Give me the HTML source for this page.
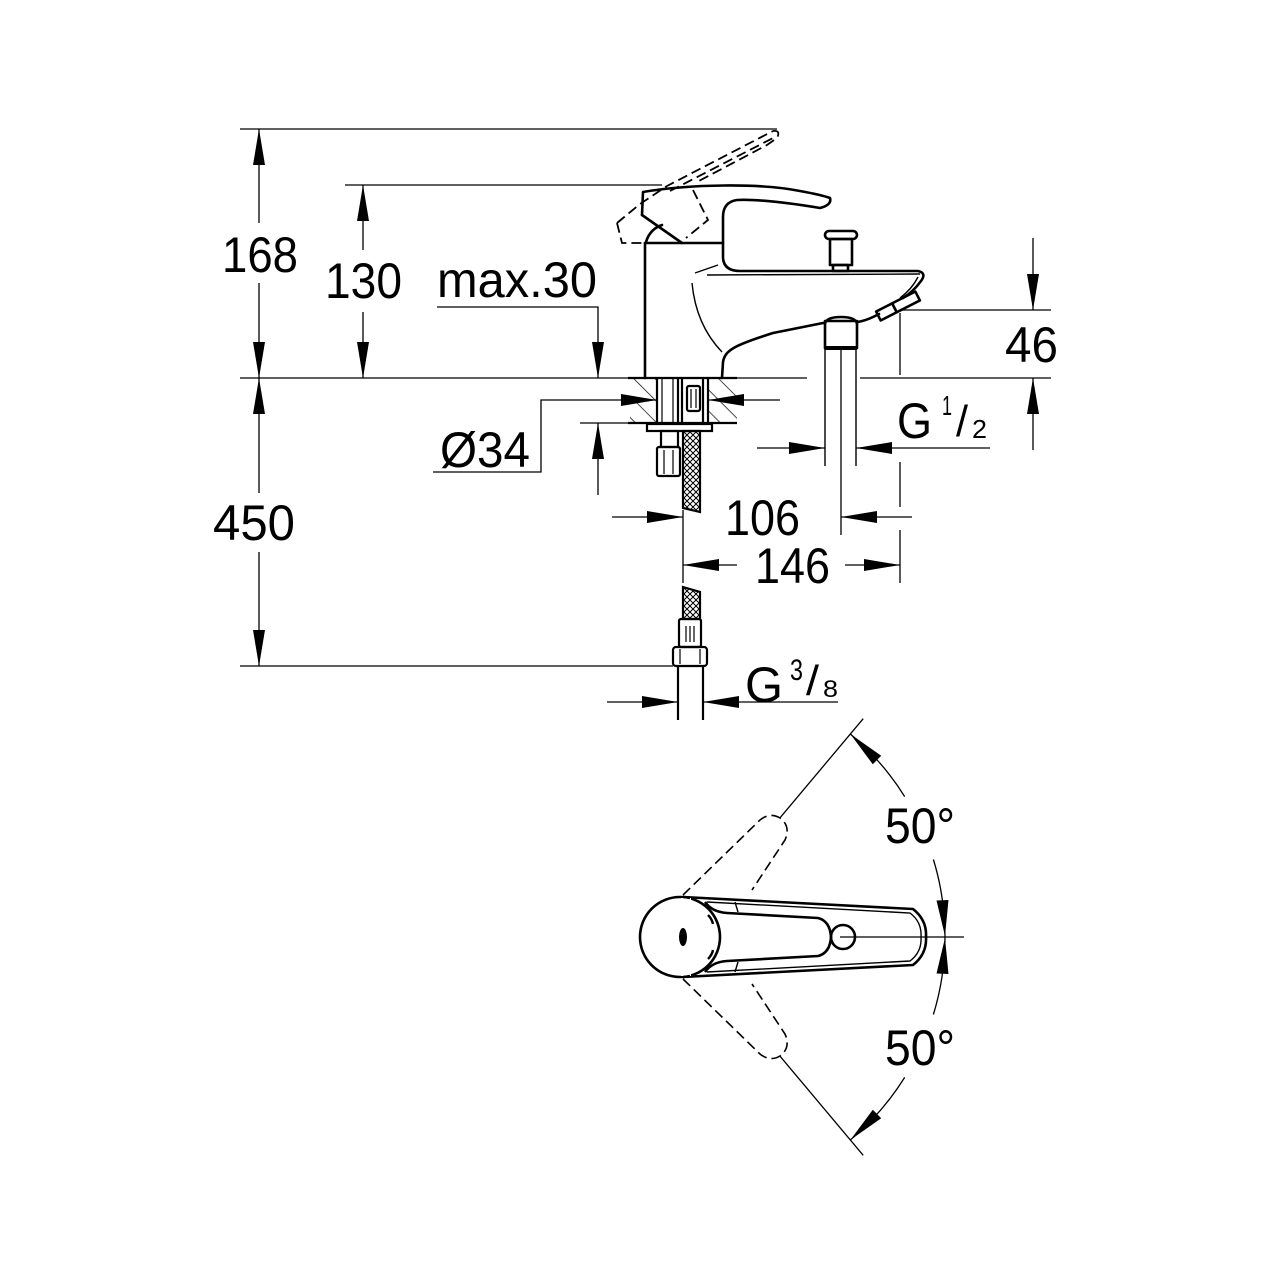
<!DOCTYPE html>
<html><head><meta charset="utf-8"><style>
html,body{margin:0;padding:0;background:#fff;}
svg{display:block;}
text{font-family:"Liberation Sans",Arial,sans-serif;fill:#000;}
</style></head><body>
<svg width="1280" height="1280" viewBox="0 0 1280 1280" xmlns="http://www.w3.org/2000/svg">
<defs>
<pattern id="xh" width="6" height="6" patternUnits="userSpaceOnUse">
<path d="M0,0 L6,6 M6,0 L0,6" stroke="#000" stroke-width="1"/>
</pattern>
<pattern id="hh" width="15" height="15" patternUnits="userSpaceOnUse" patternTransform="rotate(-45)">
<line x1="0" y1="0" x2="0" y2="15" stroke="#000" stroke-width="1.4"/>
</pattern>
</defs>
<rect width="1280" height="1280" fill="#fff"/>

<!-- dimension lines -->
<g stroke="#000" stroke-width="1.3" fill="none">
<line x1="240" y1="129" x2="777" y2="129"/>
<line x1="259" y1="129" x2="259" y2="223"/>
<line x1="259" y1="283" x2="259" y2="378"/>
<line x1="259" y1="378" x2="259" y2="493"/>
<line x1="259" y1="552" x2="259" y2="666"/>
<line x1="240" y1="666" x2="673" y2="666"/>
<line x1="345" y1="185" x2="662" y2="185"/>
<line x1="363" y1="185" x2="363" y2="250"/>
<line x1="363" y1="312" x2="363" y2="378"/>
<line x1="240" y1="378" x2="807" y2="378"/>
<line x1="860" y1="378" x2="1051" y2="378"/>
<polyline points="437,307 598,307 598,378"/>
<line x1="580" y1="423" x2="630" y2="423"/>
<line x1="598" y1="423" x2="598" y2="495"/>
<polyline points="433,472 541,472 541,400 657,400"/>
<line x1="708" y1="400" x2="780" y2="400"/>
<line x1="612" y1="517" x2="683" y2="517"/>
<line x1="683" y1="510" x2="683" y2="583"/>
<line x1="757" y1="448" x2="825" y2="448"/>
<line x1="856" y1="448" x2="990" y2="448"/>
<line x1="841" y1="348" x2="841" y2="535"/>
<line x1="841" y1="517" x2="912" y2="517"/>
<line x1="683" y1="565" x2="737" y2="565"/>
<line x1="845" y1="565" x2="900" y2="565"/>
<line x1="900" y1="313" x2="900" y2="375"/>
<line x1="900" y1="462" x2="900" y2="507"/>
<line x1="900" y1="530" x2="900" y2="583"/>
<line x1="1033" y1="238" x2="1033" y2="310"/>
<line x1="1033" y1="378" x2="1033" y2="450"/>
<line x1="900" y1="310" x2="1051" y2="310"/>
<line x1="607" y1="702" x2="678" y2="702"/>
<line x1="703" y1="702" x2="838" y2="702"/>
</g>

<!-- arrowheads -->
<g fill="#000" stroke="none">
<polygon points="259,129 253,165 265,165"/>
<polygon points="259,378 253,342 265,342"/>
<polygon points="259,378 253,414 265,414"/>
<polygon points="259,666 253,630 265,630"/>
<polygon points="363,185 357,221 369,221"/>
<polygon points="363,378 357,342 369,342"/>
<polygon points="598,378 592,342 604,342"/>
<polygon points="598,423 592,459 604,459"/>
<polygon points="657,400 621,394 621,406"/>
<polygon points="708,400 744,394 744,406"/>
<polygon points="683,517 647,511 647,523"/>
<polygon points="825,448 789,442 789,454"/>
<polygon points="856,448 892,442 892,454"/>
<polygon points="841,517 877,511 877,523"/>
<polygon points="683,565 719,559 719,571"/>
<polygon points="900,565 864,559 864,571"/>
<polygon points="1033,310 1027,274 1039,274"/>
<polygon points="1033,378 1027,414 1039,414"/>
<polygon points="678,702 642,696 642,708"/>
<polygon points="703,702 739,696 739,708"/>
<!-- angle arrows -->
<polygon points="850.3,734 881.2,755.7 872.8,764.3"/>
<polygon points="945,936 948.5,900 936.5,900.5"/>
<polygon points="945,938 948.5,974 936.5,973.5"/>
<polygon points="850.3,1140 881.2,1118.3 872.8,1109.7"/>
</g>

<!-- texts -->
<g font-size="50">
<text x="222" y="272" textLength="76" lengthAdjust="spacingAndGlyphs">168</text>
<text x="325" y="298" textLength="77" lengthAdjust="spacingAndGlyphs">130</text>
<text x="437" y="297" textLength="160" lengthAdjust="spacingAndGlyphs">max.30</text>
<text x="440" y="467" textLength="90" lengthAdjust="spacingAndGlyphs">Ø34</text>
<text x="213" y="540" textLength="82" lengthAdjust="spacingAndGlyphs">450</text>
<text x="725" y="535" textLength="75" lengthAdjust="spacingAndGlyphs">106</text>
<text x="755" y="583" textLength="75" lengthAdjust="spacingAndGlyphs">146</text>
<text x="1005" y="362" textLength="53" lengthAdjust="spacingAndGlyphs">46</text>
<text x="897" y="438" textLength="35" lengthAdjust="spacingAndGlyphs">G</text>
<text x="745" y="702" textLength="38" lengthAdjust="spacingAndGlyphs">G</text>
<text x="885" y="843" textLength="70" lengthAdjust="spacingAndGlyphs">50°</text>
<text x="885" y="1065" textLength="70" lengthAdjust="spacingAndGlyphs">50°</text>
</g>
<text x="942" y="415" font-size="28" textLength="10" lengthAdjust="spacingAndGlyphs">1</text>
<text x="956" y="436" font-size="44" textLength="12" lengthAdjust="spacingAndGlyphs">/</text>
<text x="972" y="438" font-size="26" textLength="15" lengthAdjust="spacingAndGlyphs">2</text>
<text x="790" y="680" font-size="30" textLength="13" lengthAdjust="spacingAndGlyphs">3</text>
<text x="806" y="695" font-size="42" textLength="13" lengthAdjust="spacingAndGlyphs">/</text>
<text x="823" y="697" font-size="24" textLength="15" lengthAdjust="spacingAndGlyphs">8</text>

<!-- faucet side view -->
<g stroke="#000" stroke-width="2.6" fill="none" stroke-linejoin="round" stroke-linecap="round">
<path d="M642,215 L643,192 C690,184 760,183 800,191 Q822,195 830,198 Q832,205 820,208 C790,203 760,199 737,200 Q723,202 723,217 L723,258 Q724,271 740,271 L918,271 Q927,273 921,281 Q913,292 903,298"/>
<path d="M642,215 L682,243"/>
<path d="M645,243 L723,243"/>
<path d="M645,243 L645,378"/>
<path d="M646,242 Q650,229 662,225"/>
<path d="M722,378 L723,362 C725,350 735,345 773,333 L823,323"/>
<path d="M825,324 Q826,317 841,317 Q856,317 857,324"/>
<rect x="825" y="321" width="32" height="27"/>
<path d="M857,322 Q866,321 879,314"/>
<rect x="825" y="231" width="32" height="8" rx="4"/>
<rect x="830" y="239" width="22" height="26"/>
<rect x="833" y="265" width="15" height="6"/>
<g transform="translate(898,306) rotate(-27)">
<rect x="-22" y="-5" width="44" height="10"/>
<line x1="-4" y1="-5" x2="-4" y2="5"/>
</g>
</g>
<line x1="825" y1="348" x2="857" y2="348" stroke="#000" stroke-width="4"/>
<g stroke="#000" stroke-width="1.4" fill="none">
<line x1="707" y1="275" x2="920" y2="274"/>
<line x1="695" y1="273" x2="718" y2="265"/>
<path d="M692,283 Q696,325 722,352"/>
<path d="M918,277 Q912,289 900,298"/>
<line x1="825" y1="348" x2="825" y2="466"/>
<line x1="856" y1="348" x2="856" y2="466"/>
</g>
<!-- raised handle (dashed) -->
<g stroke="#000" stroke-width="1.8" fill="none" stroke-dasharray="10,5">
<path d="M617,223 L640,204 L667,186 L773,131"/>
<path d="M670,191 L775,137"/>
<path d="M773,131 Q781,130 777,138 L767,145 L697,182"/>
<path d="M617,223 L622,243 L643,243"/>
<path d="M693,190 L708,220 L686,238"/>
</g>

<!-- deck plate -->
<rect x="630" y="378" width="27" height="45" fill="url(#hh)"/>
<rect x="708" y="378" width="29" height="45" fill="url(#hh)"/>
<g stroke="#000" stroke-width="2.2" fill="none">
<line x1="628" y1="378" x2="737" y2="378"/>
<line x1="628" y1="423" x2="737" y2="423"/>
<line x1="657" y1="378" x2="657" y2="423"/>
<line x1="708" y1="378" x2="708" y2="423"/>
<line x1="678" y1="378" x2="678" y2="423"/>
<line x1="682" y1="378" x2="682" y2="423"/>
<line x1="703" y1="378" x2="703" y2="423"/>
<rect x="687" y="386" width="13" height="25" rx="2"/>
<rect x="647" y="424" width="65" height="7"/>
<rect x="661" y="431" width="17" height="16"/>
<rect x="657" y="447" width="23" height="29" rx="2"/>
</g>
<g stroke="#000" stroke-width="1.2" fill="none">
<line x1="662" y1="378" x2="662" y2="423"/>
<line x1="673" y1="378" x2="673" y2="423"/>
<line x1="691" y1="389" x2="691" y2="408"/>
<line x1="696" y1="389" x2="696" y2="408"/>
<line x1="664" y1="450" x2="664" y2="474"/>
<line x1="673" y1="450" x2="673" y2="474"/>
</g>
<polygon points="683,431 700,431 700,512 683,508" fill="url(#xh)" stroke="#000" stroke-width="2.2"/>

<!-- lower hose -->
<polygon points="683,587 700,592 700,619 683,619" fill="url(#xh)" stroke="#000" stroke-width="2.2"/>
<g stroke="#000" stroke-width="2.2" fill="none">
<rect x="679" y="619" width="22" height="28" rx="2"/>
<rect x="673" y="647" width="34" height="19" rx="3"/>
<line x1="678" y1="666" x2="678" y2="720"/>
<line x1="703" y1="666" x2="703" y2="720"/>
</g>
<g stroke="#000" stroke-width="1.2" fill="none">
<line x1="686" y1="626" x2="686" y2="642"/>
<line x1="690" y1="626" x2="690" y2="642"/>
<line x1="694" y1="626" x2="694" y2="642"/>
<line x1="680" y1="649" x2="680" y2="664"/>
<line x1="700" y1="649" x2="700" y2="664"/>
</g>

<!-- top view -->
<g stroke="#000" stroke-width="1.3" fill="none">
<line x1="779.6" y1="818.3" x2="863.2" y2="718.7"/>
<line x1="779.6" y1="1055.7" x2="863.2" y2="1155.3"/>
<line x1="840" y1="937" x2="964" y2="937"/>
<path d="M850.3,734 A265,265 0 0 1 904.7,796.6"/>
<path d="M933.4,859.5 A265,265 0 0 1 945,937 A265,265 0 0 1 933.4,1014.5"/>
<path d="M904.7,1077.4 A265,265 0 0 1 850.3,1140"/>
</g>
<g stroke="#000" stroke-width="1.6" fill="none" stroke-dasharray="10,5">
<path d="M683,895 L760,820 Q770,812 780,818 Q791,826 785,840 L752,890"/>
<path d="M683,979 L760,1054 Q770,1062 780,1056 Q791,1048 785,1034 L752,984"/>
</g>
<g stroke="#000" stroke-width="2.6" fill="none" stroke-linejoin="round">
<circle cx="680" cy="937" r="40" fill="#fff"/>
<path d="M683,897 L913,909 Q927,920 926,937 Q927,954 913,965 L683,977"/>
<path d="M705,902 Q712,912 727,913 L818,918 Q830,921 831,937 Q830,953 818,956 L727,961 Q712,962 705,972"/>
<circle cx="843" cy="937" r="12"/>
</g>
<rect x="681" y="898" width="10" height="78" fill="#fff"/>
<g stroke="#000" stroke-width="1.4" fill="none">
<path d="M707,902 L910,913 Q922,922 921,937 Q922,952 910,961 L707,972"/>
<line x1="735" y1="902" x2="738" y2="912"/>
<line x1="735" y1="972" x2="738" y2="962"/>
<path d="M708,915 Q712,919 713,924" stroke-width="2.4"/>
<path d="M708,959 Q712,955 713,950" stroke-width="2.4"/>
</g>
<g stroke="#000" stroke-width="2.6" fill="none">
<path d="M683,897 A40,40 0 0 1 690,898"/>
<path d="M683,977 A40,40 0 0 0 690,976"/>
</g>
<ellipse cx="683" cy="937" rx="4" ry="9" fill="#000"/>
</svg>
</body></html>
